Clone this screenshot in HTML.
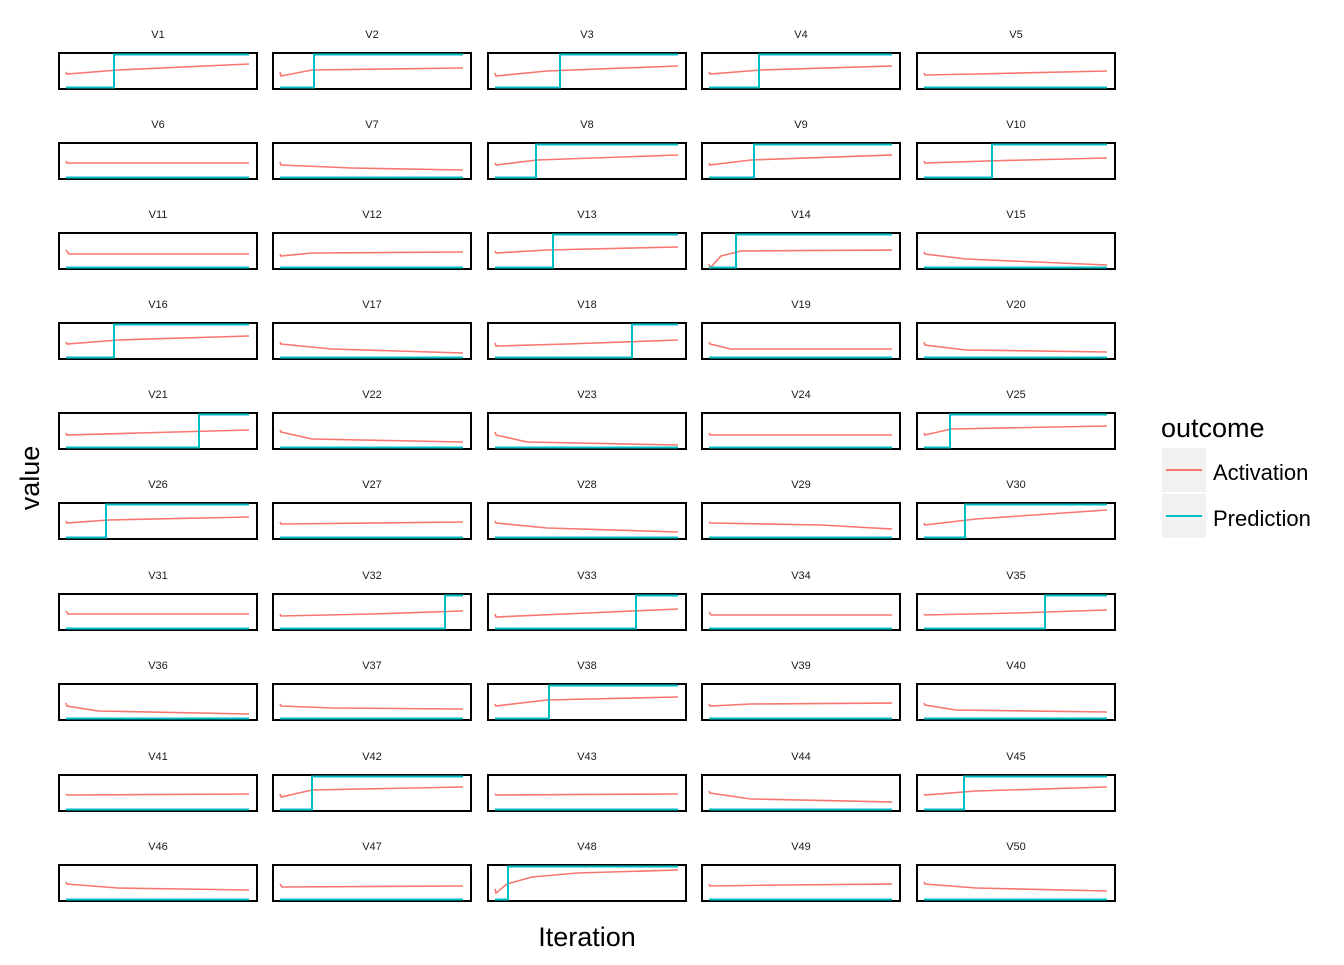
<!DOCTYPE html>
<html><head><meta charset="utf-8"><style>
body{margin:0;background:#fff;width:1344px;height:960px;overflow:hidden}
svg text{font-family:"Liberation Sans",sans-serif}
.t{font-size:11px;fill:#1a1a1a;text-anchor:middle}
.b{fill:#fff;stroke:#000;stroke-width:2}
.r{fill:none;stroke:#F8766D;stroke-width:1.6}
.c{fill:none;stroke:#00BFC4;stroke-width:2}
</style></head><body>
<svg width="1344" height="960" xmlns="http://www.w3.org/2000/svg">
<!-- Row 1 -->
<g transform="translate(58,52)"><text class="t" x="100" y="-14">V1</text><rect class="b" x="1" y="1" width="198" height="36"/><path class="r" d="M8,20 L9,22 L60,18 L191,12"/><path class="c" d="M8,35.5 H56 V2.5 H191"/></g>
<g transform="translate(272,52)"><text class="t" x="100" y="-14">V2</text><rect class="b" x="1" y="1" width="198" height="36"/><path class="r" d="M8,20 L9,24 L40,18 L191,16"/><path class="c" d="M8,35.5 H42 V2.5 H191"/></g>
<g transform="translate(487,52)"><text class="t" x="100" y="-14">V3</text><rect class="b" x="1" y="1" width="198" height="36"/><path class="r" d="M8,21 L9,24 L60,19 L191,14"/><path class="c" d="M8,35.5 H73 V2.5 H191"/></g>
<g transform="translate(701,52)"><text class="t" x="100" y="-14">V4</text><rect class="b" x="1" y="1" width="198" height="36"/><path class="r" d="M8,20 L9,22 L60,18 L191,14"/><path class="c" d="M8,35.5 H58 V2.5 H191"/></g>
<g transform="translate(916,52)"><text class="t" x="100" y="-14">V5</text><rect class="b" x="1" y="1" width="198" height="36"/><path class="r" d="M8,21 L9,23 L60,22 L191,19"/><path class="c" d="M8,35.5 H191"/></g>
<!-- Row 2 -->
<g transform="translate(58,142)"><text class="t" x="100" y="-14">V6</text><rect class="b" x="1" y="1" width="198" height="36"/><path class="r" d="M8,19 L9,21 L191,21"/><path class="c" d="M8,35.5 H191"/></g>
<g transform="translate(272,142)"><text class="t" x="100" y="-14">V7</text><rect class="b" x="1" y="1" width="198" height="36"/><path class="r" d="M8,20 L9,23 L80,26 L191,28"/><path class="c" d="M8,35.5 H191"/></g>
<g transform="translate(487,142)"><text class="t" x="100" y="-14">V8</text><rect class="b" x="1" y="1" width="198" height="36"/><path class="r" d="M8,21 L9,23 L50,18 L191,13"/><path class="c" d="M8,35.5 H49 V2.5 H191"/></g>
<g transform="translate(701,142)"><text class="t" x="100" y="-14">V9</text><rect class="b" x="1" y="1" width="198" height="36"/><path class="r" d="M8,21 L9,23 L50,18 L191,13"/><path class="c" d="M8,35.5 H53 V2.5 H191"/></g>
<g transform="translate(916,142)"><text class="t" x="100" y="-14">V10</text><rect class="b" x="1" y="1" width="198" height="36"/><path class="r" d="M8,19 L9,21 L70,19 L191,16"/><path class="c" d="M8,35.5 H76 V2.5 H191"/></g>
<!-- Row 3 -->
<g transform="translate(58,232)"><text class="t" x="100" y="-14">V11</text><rect class="b" x="1" y="1" width="198" height="36"/><path class="r" d="M8,18 L11,22 L191,22"/><path class="c" d="M8,35.5 H191"/></g>
<g transform="translate(272,232)"><text class="t" x="100" y="-14">V12</text><rect class="b" x="1" y="1" width="198" height="36"/><path class="r" d="M8,22 L9,24 L40,21 L191,20"/><path class="c" d="M8,35.5 H191"/></g>
<g transform="translate(487,232)"><text class="t" x="100" y="-14">V13</text><rect class="b" x="1" y="1" width="198" height="36"/><path class="r" d="M8,19 L9,21 L60,18 L191,15"/><path class="c" d="M8,35.5 H66 V2.5 H191"/></g>
<g transform="translate(701,232)"><text class="t" x="100" y="-14">V14</text><rect class="b" x="1" y="1" width="198" height="36"/><path class="r" d="M8,32 L9,36 L20,24 L40,19 L191,18"/><path class="c" d="M8,35.5 H35 V2.5 H191"/></g>
<g transform="translate(916,232)"><text class="t" x="100" y="-14">V15</text><rect class="b" x="1" y="1" width="198" height="36"/><path class="r" d="M8,20 L9,22 L50,27 L191,33"/><path class="c" d="M8,35.5 H191"/></g>
<!-- Row 4 -->
<g transform="translate(58,322)"><text class="t" x="100" y="-14">V16</text><rect class="b" x="1" y="1" width="198" height="36"/><path class="r" d="M8,20 L9,22 L60,18 L191,14"/><path class="c" d="M8,35.5 H56 V2.5 H191"/></g>
<g transform="translate(272,322)"><text class="t" x="100" y="-14">V17</text><rect class="b" x="1" y="1" width="198" height="36"/><path class="r" d="M8,20 L9,22 L60,27 L191,31"/><path class="c" d="M8,35.5 H191"/></g>
<g transform="translate(487,322)"><text class="t" x="100" y="-14">V18</text><rect class="b" x="1" y="1" width="198" height="36"/><path class="r" d="M8,21 L9,24 L80,22 L191,18"/><path class="c" d="M8,35.5 H145 V2.5 H191"/></g>
<g transform="translate(701,322)"><text class="t" x="100" y="-14">V19</text><rect class="b" x="1" y="1" width="198" height="36"/><path class="r" d="M8,20 L9,22 L30,27 L191,27"/><path class="c" d="M8,35.5 H191"/></g>
<g transform="translate(916,322)"><text class="t" x="100" y="-14">V20</text><rect class="b" x="1" y="1" width="198" height="36"/><path class="r" d="M8,20 L9,23 L50,28 L191,30"/><path class="c" d="M8,35.5 H191"/></g>
<!-- Row 5 -->
<g transform="translate(58,412)"><text class="t" x="100" y="-14">V21</text><rect class="b" x="1" y="1" width="198" height="36"/><path class="r" d="M8,21 L9,23 L80,21 L191,18"/><path class="c" d="M8,35.5 H141 V2.5 H191"/></g>
<g transform="translate(272,412)"><text class="t" x="100" y="-14">V22</text><rect class="b" x="1" y="1" width="198" height="36"/><path class="r" d="M8,18 L9,20 L40,27 L191,30"/><path class="c" d="M8,35.5 H191"/></g>
<g transform="translate(487,412)"><text class="t" x="100" y="-14">V23</text><rect class="b" x="1" y="1" width="198" height="36"/><path class="r" d="M8,20 L9,23 L40,30 L191,33"/><path class="c" d="M8,35.5 H191"/></g>
<g transform="translate(701,412)"><text class="t" x="100" y="-14">V24</text><rect class="b" x="1" y="1" width="198" height="36"/><path class="r" d="M8,21 L9,23 L191,23"/><path class="c" d="M8,35.5 H191"/></g>
<g transform="translate(916,412)"><text class="t" x="100" y="-14">V25</text><rect class="b" x="1" y="1" width="198" height="36"/><path class="r" d="M8,21 L9,23 L35,17 L191,14"/><path class="c" d="M8,35.5 H34 V2.5 H191"/></g>
<!-- Row 6 -->
<g transform="translate(58,502)"><text class="t" x="100" y="-14">V26</text><rect class="b" x="1" y="1" width="198" height="36"/><path class="r" d="M8,19 L9,21 L50,18 L191,15"/><path class="c" d="M8,35.5 H48 V2.5 H191"/></g>
<g transform="translate(272,502)"><text class="t" x="100" y="-14">V27</text><rect class="b" x="1" y="1" width="198" height="36"/><path class="r" d="M8,20 L9,22 L191,20"/><path class="c" d="M8,35.5 H191"/></g>
<g transform="translate(487,502)"><text class="t" x="100" y="-14">V28</text><rect class="b" x="1" y="1" width="198" height="36"/><path class="r" d="M8,19 L9,21 L60,26 L191,30"/><path class="c" d="M8,35.5 H191"/></g>
<g transform="translate(701,502)"><text class="t" x="100" y="-14">V29</text><rect class="b" x="1" y="1" width="198" height="36"/><path class="r" d="M8,20 L9,21 L120,23 L191,27"/><path class="c" d="M8,35.5 H191"/></g>
<g transform="translate(916,502)"><text class="t" x="100" y="-14">V30</text><rect class="b" x="1" y="1" width="198" height="36"/><path class="r" d="M8,21 L9,23 L60,17 L191,8"/><path class="c" d="M8,35.5 H49 V2.5 H191"/></g>
<!-- Row 7 -->
<g transform="translate(58,593)"><text class="t" x="100" y="-14">V31</text><rect class="b" x="1" y="1" width="198" height="36"/><path class="r" d="M8,18 L10,21 L191,21"/><path class="c" d="M8,35.5 H191"/></g>
<g transform="translate(272,593)"><text class="t" x="100" y="-14">V32</text><rect class="b" x="1" y="1" width="198" height="36"/><path class="r" d="M8,21 L9,23 L100,21 L191,18"/><path class="c" d="M8,35.5 H173 V2.5 H191"/></g>
<g transform="translate(487,593)"><text class="t" x="100" y="-14">V33</text><rect class="b" x="1" y="1" width="198" height="36"/><path class="r" d="M8,21 L9,24 L100,20 L191,16"/><path class="c" d="M8,35.5 H149 V2.5 H191"/></g>
<g transform="translate(701,593)"><text class="t" x="100" y="-14">V34</text><rect class="b" x="1" y="1" width="198" height="36"/><path class="r" d="M8,19 L10,22 L191,22"/><path class="c" d="M8,35.5 H191"/></g>
<g transform="translate(916,593)"><text class="t" x="100" y="-14">V35</text><rect class="b" x="1" y="1" width="198" height="36"/><path class="r" d="M8,21 L9,22 L100,20 L191,17"/><path class="c" d="M8,35.5 H129 V2.5 H191"/></g>
<!-- Row 8 -->
<g transform="translate(58,683)"><text class="t" x="100" y="-14">V36</text><rect class="b" x="1" y="1" width="198" height="36"/><path class="r" d="M8,20 L9,23 L40,28 L191,31"/><path class="c" d="M8,35.5 H191"/></g>
<g transform="translate(272,683)"><text class="t" x="100" y="-14">V37</text><rect class="b" x="1" y="1" width="198" height="36"/><path class="r" d="M8,21 L9,23 L60,25 L191,26"/><path class="c" d="M8,35.5 H191"/></g>
<g transform="translate(487,683)"><text class="t" x="100" y="-14">V38</text><rect class="b" x="1" y="1" width="198" height="36"/><path class="r" d="M8,21 L9,23 L60,17 L191,14"/><path class="c" d="M8,35.5 H62 V2.5 H191"/></g>
<g transform="translate(701,683)"><text class="t" x="100" y="-14">V39</text><rect class="b" x="1" y="1" width="198" height="36"/><path class="r" d="M8,21 L9,23 L50,21 L191,20"/><path class="c" d="M8,35.5 H191"/></g>
<g transform="translate(916,683)"><text class="t" x="100" y="-14">V40</text><rect class="b" x="1" y="1" width="198" height="36"/><path class="r" d="M8,20 L9,22 L40,27 L191,29"/><path class="c" d="M8,35.5 H191"/></g>
<!-- Row 9 -->
<g transform="translate(58,774)"><text class="t" x="100" y="-14">V41</text><rect class="b" x="1" y="1" width="198" height="36"/><path class="r" d="M8,20 L9,21 L191,20"/><path class="c" d="M8,35.5 H191"/></g>
<g transform="translate(272,774)"><text class="t" x="100" y="-14">V42</text><rect class="b" x="1" y="1" width="198" height="36"/><path class="r" d="M8,20 L9,23 L40,16 L191,13"/><path class="c" d="M8,35.5 H40 V2.5 H191"/></g>
<g transform="translate(487,774)"><text class="t" x="100" y="-14">V43</text><rect class="b" x="1" y="1" width="198" height="36"/><path class="r" d="M8,20 L9,21 L191,20"/><path class="c" d="M8,35.5 H191"/></g>
<g transform="translate(701,774)"><text class="t" x="100" y="-14">V44</text><rect class="b" x="1" y="1" width="198" height="36"/><path class="r" d="M8,17 L9,19 L50,25 L191,28"/><path class="c" d="M8,35.5 H191"/></g>
<g transform="translate(916,774)"><text class="t" x="100" y="-14">V45</text><rect class="b" x="1" y="1" width="198" height="36"/><path class="r" d="M8,20 L9,21 L60,17 L191,13"/><path class="c" d="M8,35.5 H48 V2.5 H191"/></g>
<!-- Row 10 -->
<g transform="translate(58,864)"><text class="t" x="100" y="-14">V46</text><rect class="b" x="1" y="1" width="198" height="36"/><path class="r" d="M8,18 L9,20 L60,24 L191,26"/><path class="c" d="M8,35.5 H191"/></g>
<g transform="translate(272,864)"><text class="t" x="100" y="-14">V47</text><rect class="b" x="1" y="1" width="198" height="36"/><path class="r" d="M8,20 L10,23 L191,22"/><path class="c" d="M8,35.5 H191"/></g>
<g transform="translate(487,864)"><text class="t" x="100" y="-14">V48</text><rect class="b" x="1" y="1" width="198" height="36"/><path class="r" d="M8,25 L9,29 L20,20 L45,13 L90,9 L191,6"/><path class="c" d="M8,35.5 H21 V2.5 H191"/></g>
<g transform="translate(701,864)"><text class="t" x="100" y="-14">V49</text><rect class="b" x="1" y="1" width="198" height="36"/><path class="r" d="M8,20 L9,22 L80,21 L191,20"/><path class="c" d="M8,35.5 H191"/></g>
<g transform="translate(916,864)"><text class="t" x="100" y="-14">V50</text><rect class="b" x="1" y="1" width="198" height="36"/><path class="r" d="M8,18 L9,20 L60,24 L191,27"/><path class="c" d="M8,35.5 H191"/></g>
<!-- axes -->
<text x="587" y="946" font-size="27" text-anchor="middle" fill="#000">Iteration</text>
<text transform="translate(39,478) rotate(-90)" font-size="27" text-anchor="middle" fill="#000">value</text>
<!-- legend -->
<text x="1161" y="437" font-size="27" fill="#000">outcome</text>
<rect x="1162" y="448" width="44" height="44" fill="#f2f2f2"/>
<line x1="1166" y1="470" x2="1202" y2="470" stroke="#F8766D" stroke-width="2"/>
<rect x="1162" y="494" width="44" height="44" fill="#f2f2f2"/>
<line x1="1166" y1="516" x2="1202" y2="516" stroke="#00BFC4" stroke-width="2"/>
<text x="1213" y="480" font-size="22" fill="#000">Activation</text>
<text x="1213" y="526" font-size="22" fill="#000">Prediction</text>
</svg>
</body></html>
